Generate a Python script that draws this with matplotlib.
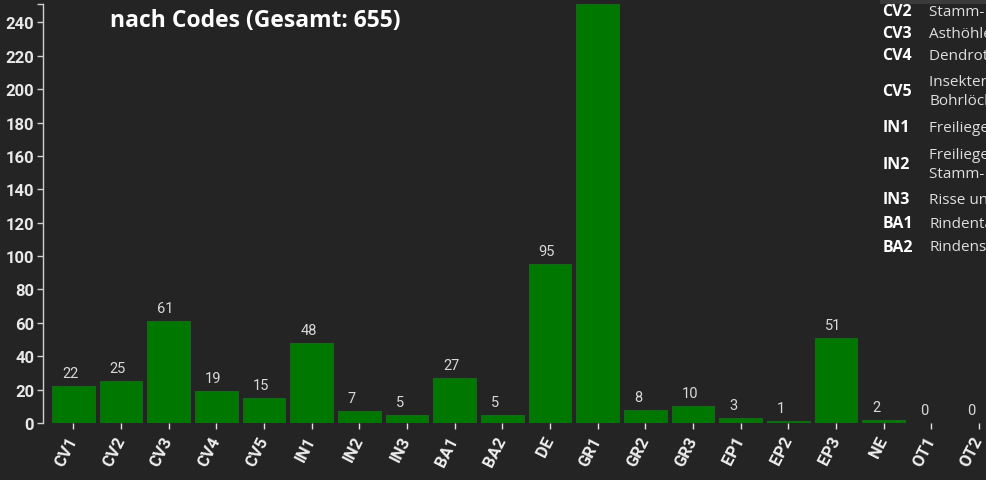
import numpy as np
import matplotlib.pyplot as plt
from matplotlib.patches import Rectangle

# Mikrohabitate nach Codes
codes = ['CV1', 'CV2', 'CV3', 'CV4', 'CV5', 'IN1', 'IN2', 'IN3', 'BA1', 'BA2',
         'DE', 'GR1', 'GR2', 'GR3', 'EP1', 'EP2', 'EP3', 'NE', 'OT1', 'OT2']
counts = [22, 25, 61, 19, 15, 48, 7, 5, 27, 5,
          95, 251, 8, 10, 3, 1, 51, 2, 0, 0]
title = 'nach Codes (Gesamt: 655)'

legend_codes = ['CV2', 'CV3', 'CV4', 'CV5', 'IN1', 'IN2', 'IN3', 'BA1', 'BA2']
legend_texts = ['Stamm- und Mulmhöhlen',
                'Asthöhlen',
                'Dendrotelme und wassergefüllte Mulden',
                'Insektengänge und\nBohrlöcher',
                'Freiliegender Splint',
                'Freiliegendes Kernholz /\nStamm- und Kronenbruch',
                'Risse und Narben',
                'Rindentaschen',
                'Rindenstruktur']

BG = '#242424'
W, H = 987, 481

def fx(px): return px / W
def fy(py): return 1 - py / H

fig = plt.figure(figsize=(W / 100, H / 100), dpi=100, facecolor=BG)
ax = fig.add_axes([fx(49.5), fy(424), fx(953.3), (424 - 5) / H])
ax.set_facecolor(BG)

x = np.arange(len(codes))
ymax = max(counts)
ax.bar(x, counts, width=0.9, color='#007800', edgecolor='#17661a', linewidth=0.8)
ax.set_xlim(-0.5, len(codes) - 0.5)
ax.set_ylim(0, ymax)

# Werte ueber den Balken (linksbuendig am Balkenanfang); der hoechste liegt ausserhalb
for i, v in enumerate(counts):
    if v >= ymax:
        continue
    ax.annotate(str(v), (i - 0.45, v), xytext=(10, 6), textcoords='offset pixels',
                ha='left', va='bottom', fontsize=10.5, color='#d9d9d9',
                family='Roboto', annotation_clip=False)

for s in ['top', 'right', 'bottom']:
    ax.spines[s].set_visible(False)
ax.spines['left'].set_position(('outward', 4.5))
ax.spines['left'].set_color('#cfcfcf')
ax.spines['left'].set_linewidth(1)

ax.set_yticks(np.arange(0, 241, 20))
ax.set_yticks([ymax], minor=True)
ax.tick_params(axis='y', which='both', length=4, width=1, color='#cfcfcf',
               labelcolor='#e8e8e8', labelsize=12, pad=2.5)
for lab in ax.get_yticklabels():
    lab.set_family('Roboto')
    lab.set_fontweight('bold')

ax.set_xticks(x)
ax.set_xticklabels(codes, rotation=63, ha='right', va='center',
                   rotation_mode='anchor', family='Roboto', fontweight='bold',
                   fontsize=12, color='#eeeeee')
ax.tick_params(axis='x', length=4, width=1, color='#e0e0e0', pad=6)

fig.text(fx(110), fy(21), title, ha='left', va='center', fontsize=16.5,
         fontweight='bold', family='Open Sans', color='white')

# Legendenbox rechts oben (angeschnitten)
fig.add_artist(Rectangle((fx(880), fy(258)), fx(200), 258 / H + 0.05,
                         transform=fig.transFigure, facecolor='#3a3a3a',
                         edgecolor='none', zorder=0))
row_y = [12, 34, 56, 92, 128, 165, 200, 224, 248]
for c, t, y in zip(legend_codes, legend_texts, row_y):
    fig.text(fx(882.5), fy(y), c, ha='left', va='center', fontsize=11.5,
             fontweight='bold', family='Open Sans', color='white')
    fig.text(fx(929.5), fy(y), t, ha='left', va='center', fontsize=11,
             family='Open Sans', color='#dedede', linespacing=1.35)

fig.savefig('out.png', dpi=100, facecolor=BG)
